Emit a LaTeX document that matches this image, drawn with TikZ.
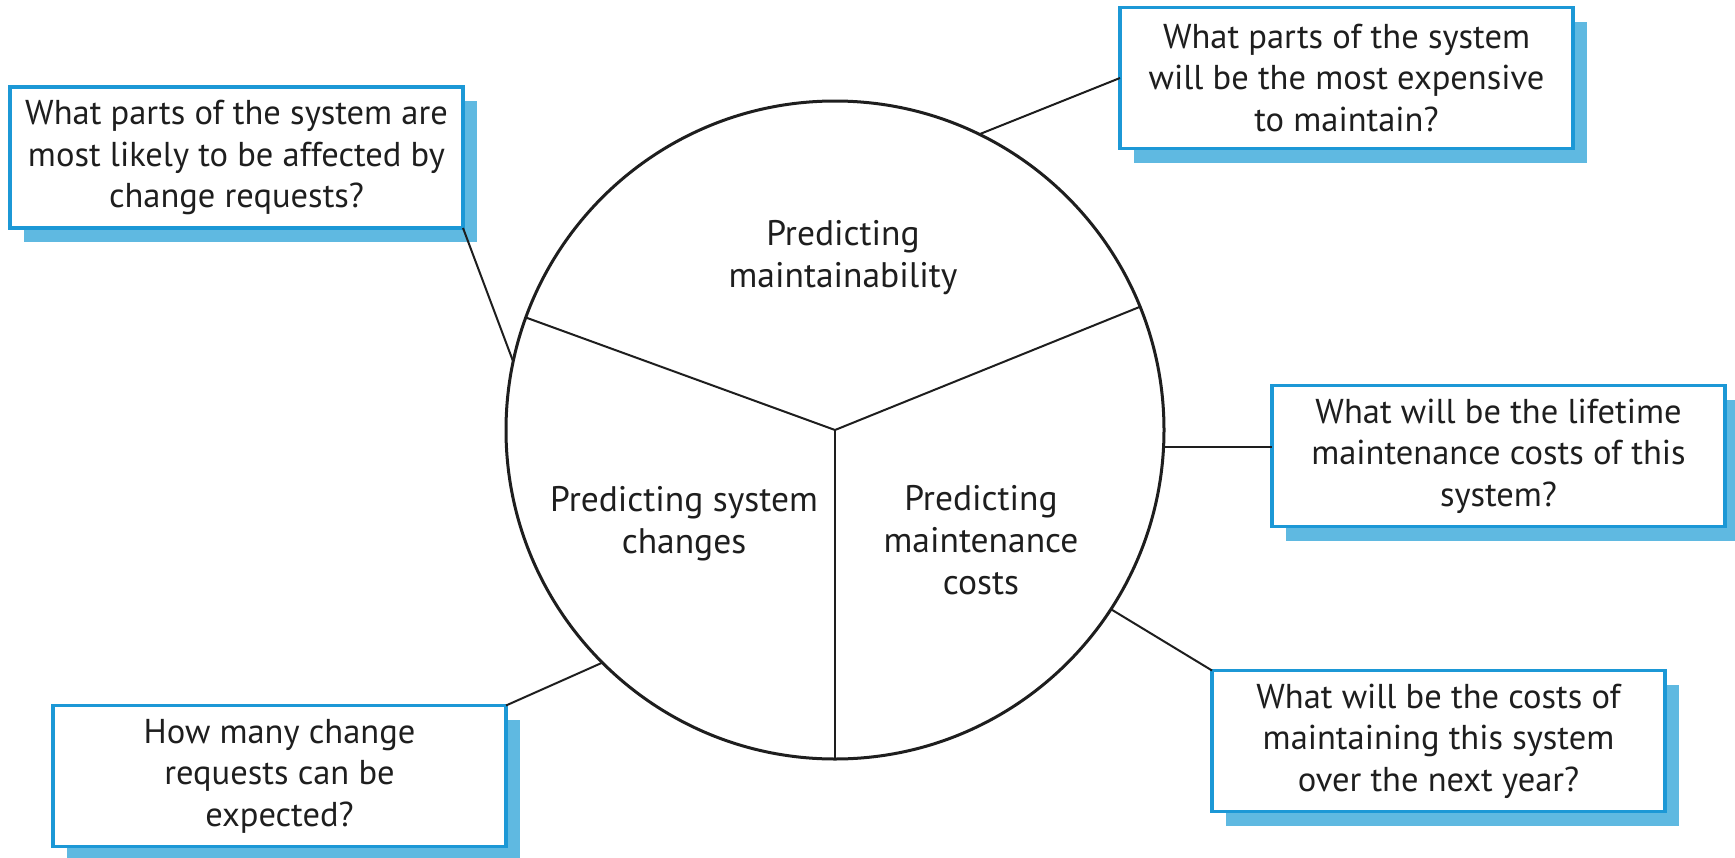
\documentclass[tikz,border=0pt]{standalone}
\usepackage{fontspec}
\setmainfont{PT Sans}
\usetikzlibrary{shadows}
\definecolor{qblue}{RGB}{28,152,214}
\definecolor{qshadow}{RGB}{95,185,225}
\definecolor{ink}{RGB}{30,30,30}
\begin{document}
\begin{tikzpicture}[x=1pt,y=-1pt,
  qbox/.style={draw=qblue, line width=3.5pt, fill=white,
    minimum width=453pt, minimum height=141pt, inner sep=0pt, outer sep=0pt,
    align=center, text=ink, font=\fontsize{34.5}{41.5}\selectfont,
    drop shadow={shadow xshift=14pt, shadow yshift=-14pt, fill=qshadow, opacity=1}},
  lab/.style={align=center, text=ink, font=\fontsize{35.5}{42}\selectfont, inner sep=0pt},
  conn/.style={draw=ink, line width=2pt},
  divider/.style={draw=ink, line width=2pt}
]
\useasboundingbox (0,0) rectangle (1735,857);
\node[circle, draw=ink, line width=3pt, fill=white, minimum size=658pt, inner sep=0pt, outer sep=0pt] (c) at (835,430) {};
\draw[divider] (c.center) -- (c.160.35);
\draw[divider] (c.center) -- (c.22.2);
\draw[divider] (c.center) -- (c.270);

\node[lab] (l1) at (843,258) {Predicting\\maintainability};
\node[lab] (l2) at (684,524) {Predicting system\\changes};
\node[lab] (l3) at (981,540) {Predicting\\maintenance\\costs};

\node[qbox] (b1) at (236.5,157.5) {What parts of the system are\\most likely to be affected by\\change requests?};
\node[qbox] (b2) at (1346.5,78) {What parts of the system\\will be the most expensive\\to maintain?};
\node[qbox] (b3) at (1498.5,456) {What will be the lifetime\\maintenance costs of this\\system?};
\node[qbox] (b4) at (279.5,776) {How many change\\requests can be\\expected?};
\node[qbox] (b5) at (1438.5,741) {What will be the costs of\\maintaining this system\\over the next year?};

\draw[conn] (b1.south east) -- (c.168.4);
\draw[conn] (b2.west) -- (c.64.8);
\draw[conn] (c.-3.1) -- (c.-3.1 -| b3.west);
\draw[conn] (b4.north east) -- (c.225.6);
\draw[conn] (b5.north west) -- (c.-33.7);
\end{tikzpicture}
\end{document}
